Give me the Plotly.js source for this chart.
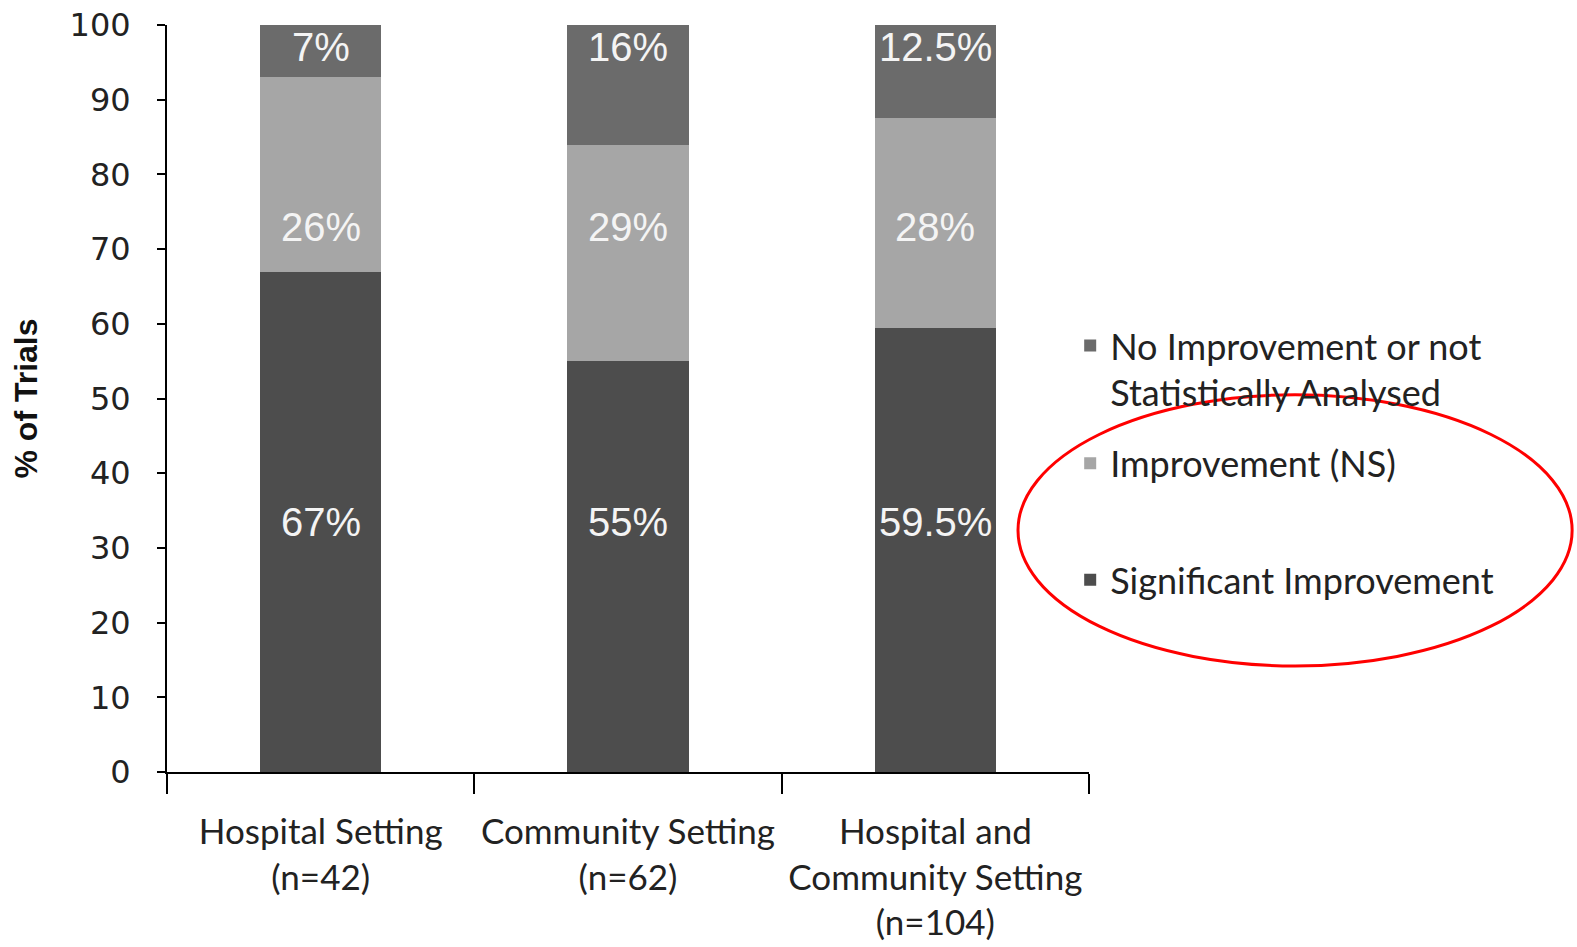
<!DOCTYPE html>
<html><head><meta charset="utf-8">
<script src="https://cdn.plot.ly/plotly-3.0.1.min.js"></script>
<style>html,body{margin:0;padding:0;background:#fff}#chart{width:1577px;height:947px}</style>
</head><body><div id="chart"></div>
<script>
// ---- data ----
const categories = ["Hospital Setting<br>(n=42)", "Community Setting<br>(n=62)", "Hospital and<br>Community Setting<br>(n=104)"];
const seriesNames = ["Significant Improvement", "Improvement (NS)", "No Improvement or not<br>Statistically Analysed"];
const significant = [67, 55, 59.5];
const improvementNS = [26, 29, 28];
const noImprovement = [7, 16, 12.5];
const labelsSignificant = ["67%", "55%", "59.5%"];
const labelsNS = ["26%", "29%", "28%"];
const labelsNone = ["7%", "16%", "12.5%"];
const yTickVals = [0, 10, 20, 30, 40, 50, 60, 70, 80, 90, 100];

// ---- styles ----
const colors = ["#4d4d4d", "#a6a6a6", "#6b6b6b"];
const labelLevel = [33.5, 73, 97]; // label heights per series (layout setting)
const seriesValues = [significant, improvementNS, noImprovement];
const seriesLabels = [labelsSignificant, labelsNS, labelsNone];
const legendIds = ["legend3", "legend2", "legend"];

const traces = seriesValues.map((vals, i) => ({
  type: "bar",
  name: seriesNames[i],
  x: categories,
  y: vals,
  width: 0.395,
  marker: {color: colors[i], line: {width: 0}},
  legend: legendIds[i],
  hoverinfo: "skip"
}));

const annotations = [];
seriesLabels.forEach((labs, i) => {
  labs.forEach((t, j) => {
    annotations.push({
      x: categories[j], y: labelLevel[i], xref: "x", yref: "y",
      text: t, showarrow: false,
      font: {family: "Liberation Sans, Arial, sans-serif", size: 40, color: "#f4f4f4"}
    });
  });
});

const legendFont = {family: "Lato, sans-serif", size: 36, color: "#222"};
function legendAt(ytop) {
  return {x: 0.9796, xanchor: "left", y: ytop, yanchor: "top", font: legendFont,
          bgcolor: "rgba(0,0,0,0)", valign: "top", itemclick: false};
}

const layout = {
  width: 1577, height: 947,
  margin: {l: 167, r: 488, t: 25, b: 175},
  paper_bgcolor: "#fff", plot_bgcolor: "#fff",
  barmode: "stack",
  showlegend: true,
  legend: legendAt(0.611),
  legend2: legendAt(0.4535),
  legend3: legendAt(0.2975),
  xaxis: {
    range: [-0.5, 2.5], type: "category",
    showline: true, linecolor: "#000", linewidth: 2,
    ticks: "outside", tickson: "boundaries", ticklen: 20, tickwidth: 2, tickcolor: "#000",
    tickfont: {family: "Lato, sans-serif", size: 35, color: "#222"},
    tickangle: 0,
    ticklabelstandoff: 28,
    showgrid: false, zeroline: false, automargin: false
  },
  yaxis: {
    range: [0, 100], tickvals: yTickVals, ticktext: yTickVals.map(String),
    showline: true, linecolor: "#000", linewidth: 2,
    ticks: "outside", ticklen: 8, tickwidth: 2, tickcolor: "#000",
    tickfont: {family: "DejaVu Sans, sans-serif", size: 32, color: "#222"},
    ticklabelstandoff: 20,
    showgrid: false, zeroline: false, automargin: false,
    title: {text: "% of Trials", standoff: 22,
            font: {family: "Liberation Sans, Arial, sans-serif", size: 32, color: "#111", weight: "bold"}}
  },
  annotations: annotations,
  shapes: [{
    type: "circle", xref: "paper", yref: "paper",
    x0: 0.923, x1: 1.524, y0: 0.142, y1: 0.505,
    line: {color: "#ff0000", width: 3}, layer: "above"
  }]
};

Plotly.newPlot("chart", traces, layout, {displayModeBar: false, staticPlot: true});
</script>
</body></html>
